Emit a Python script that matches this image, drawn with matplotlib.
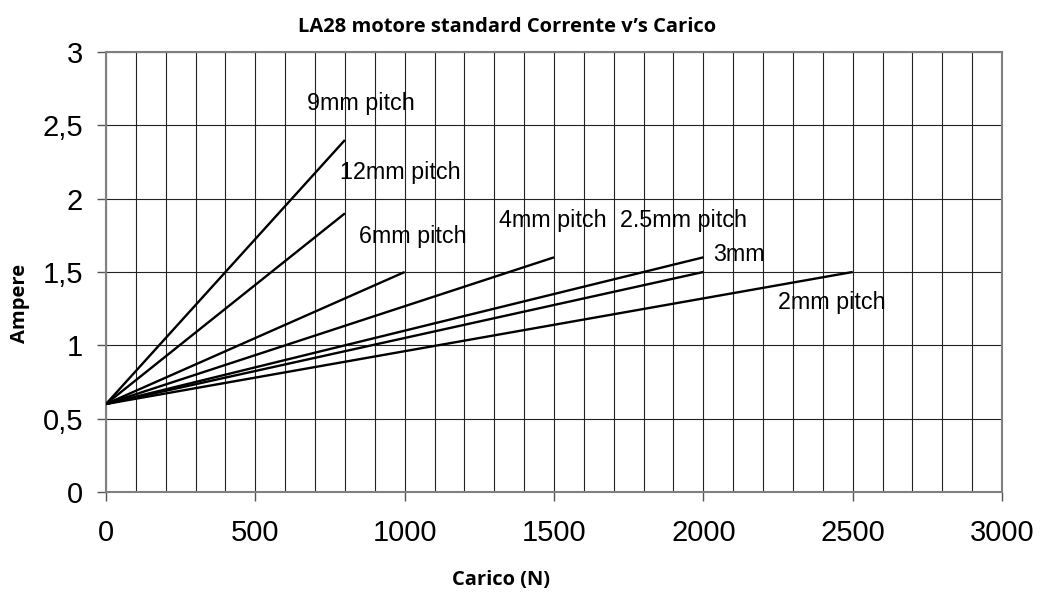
import numpy as np
import matplotlib.pyplot as plt
from matplotlib.ticker import MultipleLocator, FuncFormatter

# serie: (carico finale, corrente finale), tutte partono da (0, 0.6)
start_x = 0
start_y = 0.6
names = ["9mm", "12mm", "6mm", "4mm", "2.5mm", "3mm", "2mm"]
end_x = [800, 800, 1000, 1500, 2000, 2000, 2500]
end_y = [2.4, 1.9, 1.5, 1.6, 1.6, 1.5, 1.5]

# etichette
lab_text = ["9mm pitch", "12mm pitch", "6mm pitch", "4mm pitch", "2.5mm pitch", "3mm", "2mm pitch"]
lab_x = [673, 783, 847, 1316, 1721, 2032, 2250]
lab_y = [2.65, 2.18, 1.74, 1.85, 1.85, 1.62, 1.29]

font = "Liberation Sans"
bold_font = "Open Sans"

fig = plt.figure(figsize=(10.4, 5.98), dpi=100)
ax = fig.add_axes([106/1040, 1-492/598, 896/1040, 440/598])

for i in range(len(names)):
    ax.plot([start_x, end_x[i]], [start_y, end_y[i]], color="black", lw=1.7,
            solid_capstyle="butt", zorder=3)

for i in range(len(lab_text)):
    ax.text(lab_x[i], lab_y[i], lab_text[i], ha="left", va="center",
            fontsize=16.8, family=font, zorder=4)

ax.set_xlim(0, 3000)
ax.set_ylim(0, 3)
ax.xaxis.set_major_locator(MultipleLocator(500))
ax.xaxis.set_minor_locator(MultipleLocator(100))
ax.yaxis.set_major_locator(MultipleLocator(0.5))
ax.yaxis.set_major_formatter(FuncFormatter(lambda v, p: ("%g" % v).replace(".", ",")))

ax.grid(which="both", axis="x", color="#222222", lw=0.8)
ax.grid(which="major", axis="y", color="#222222", lw=0.8)
ax.set_axisbelow(True)

for s in ax.spines.values():
    s.set_color("#808080")
    s.set_linewidth(1.5)

ax.tick_params(axis="both", which="major", direction="out", length=6.5,
               width=1, color="#555555", labelsize=21)
ax.tick_params(axis="x", which="minor", length=0)
ax.tick_params(axis="x", pad=13)
ax.tick_params(axis="y", pad=10)
for lab in ax.get_xticklabels() + ax.get_yticklabels():
    lab.set_family(font)

fig.text(507/1040, 1-27/598, "LA28 motore standard Corrente v\u2019s Carico",
         ha="center", va="center", fontsize=14.5, fontweight="bold", family=bold_font)
fig.text(501/1040, 1-580/598, "Carico (N)", ha="center", va="center",
         fontsize=14.5, fontweight="bold", family=bold_font)
fig.text(20/1040, 1-303/598, "Ampere", ha="center", va="center", rotation=90,
         fontsize=14.5, fontweight="bold", family=bold_font)

fig.savefig("out.png", dpi=100)
